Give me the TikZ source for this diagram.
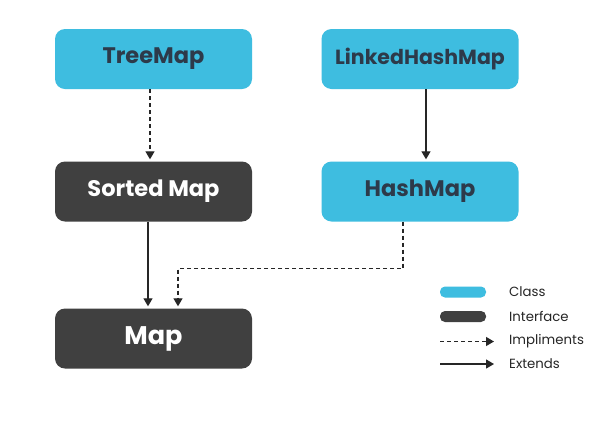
\documentclass[tikz,border=0pt]{standalone}
\usepackage{fontspec}
\setmainfont{Poppins}
\usetikzlibrary{arrows.meta}

\definecolor{classblue}{RGB}{62,189,224}
\definecolor{ifacegray}{RGB}{64,64,64}
\definecolor{classtext}{RGB}{45,58,74}

\tikzset{
  classbox/.style={rectangle, rounded corners=10pt, fill=classblue, text=classtext,
    minimum width=197pt, minimum height=60pt, inner sep=0pt, font=\bfseries\fontsize{22.5}{26}\selectfont},
  ifacebox/.style={classbox, fill=ifacegray, text=white},
  pill/.style={rectangle, rounded corners=5pt, minimum width=46pt, minimum height=11pt, inner sep=0pt},
  legtext/.style={anchor=west, inner sep=0pt, text=black!85, font=\fontsize{13.3}{16}\selectfont},
  ext/.style={-{Triangle[length=8pt,width=9pt]}, line width=1.3pt, black!85},
  impl/.style={ext, dash pattern=on 4pt off 3pt},
}

\begin{document}
\begin{tikzpicture}[x=1pt,y=-1pt]
\useasboundingbox[fill=white] (0,0) rectangle (613,440);

% classes and interfaces
\node[classbox] (treemap) at (153.5,59) {TreeMap};
\node[classbox, font=\bfseries\fontsize{20.5}{24}\selectfont] (linkedhashmap) at (420,59) {LinkedHashMap};
\node[ifacebox] (sortedmap) at (153.5,191.5) {Sorted Map};
\node[classbox] (hashmap) at (420,191.5) {HashMap};
\node[ifacebox, font=\bfseries\fontsize{25.5}{30}\selectfont] (map) at (153.5,338.5) {Map};

% relations
\draw[impl, shorten >=2pt] ([xshift=-3.5pt]treemap.south) -- ([xshift=-3.5pt]sortedmap.north);
\draw[ext, shorten >=2pt] ([xshift=6pt]linkedhashmap.south) -- ([xshift=6pt]hashmap.north);
\draw[ext, shorten >=2pt] ([xshift=-5.5pt]sortedmap.south) -- ([xshift=-5.5pt]map.north);
\draw[impl, shorten >=2pt] ([xshift=-17pt]hashmap.south) -- ++(0,47) -| ([xshift=24.5pt]map.north);

% legend
\node[pill, fill=classblue] (classkey) at (463,292) {};
\node[legtext] (classlbl) at (509,292) {Class};
\node[pill, fill=ifacegray] (ifacekey) at (463,316.5) {};
\node[legtext] (ifacelbl) at (509,316.5) {Interface};
\coordinate (impla) at (440,341.5);
\coordinate (implb) at (494,341.5);
\node[legtext] (impllbl) at (509,341.5) {Impliments};
\coordinate (exta) at (440,364);
\coordinate (extb) at (494,364);
\node[legtext] (extlbl) at (509,364) {Extends};
\draw[impl] (impla) -- (implb);
\draw[ext] (exta) -- (extb);
\end{tikzpicture}
\end{document}
